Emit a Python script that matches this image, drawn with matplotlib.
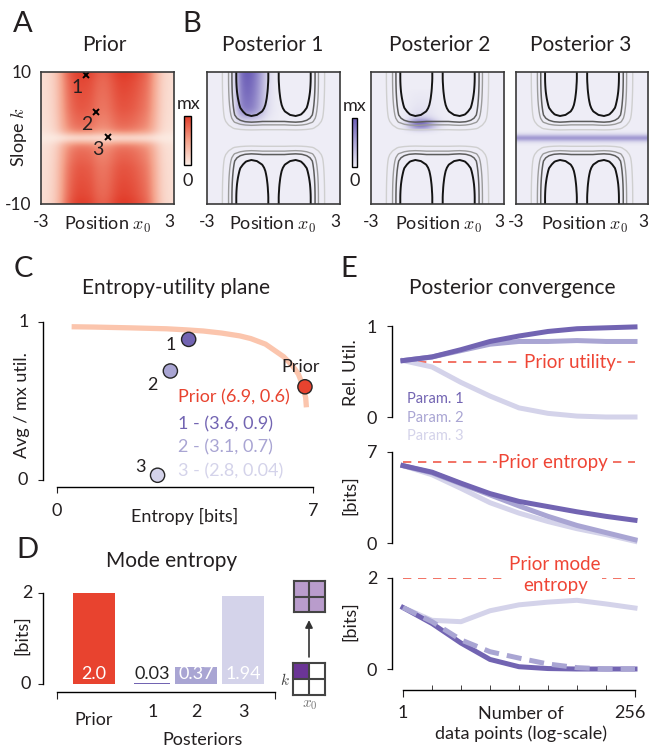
import numpy as np
import matplotlib
matplotlib.use("Agg")
import matplotlib.pyplot as plt
from matplotlib.colors import LinearSegmentedColormap, ListedColormap
from matplotlib.ticker import NullFormatter
from matplotlib.transforms import ScaledTranslation

plt.rcParams['font.family'] = ['Lato', 'DejaVu Sans']
plt.rcParams['mathtext.fontset'] = 'cm'
plt.rcParams['axes.linewidth'] = 1.0
plt.rcParams['text.color'] = '#231f20'
plt.rcParams['xtick.color'] = '#231f20'
plt.rcParams['ytick.color'] = '#231f20'

W, H = 649, 751

# ---------------- data ----------------
# image grids: x0 from -3 to 3 (step 0.25), k from 10 down to -10 (step 0.5)
pos_x0 = np.linspace(-3, 3, 25)
slope_k = np.linspace(10, -10, 41)

# prior density (separable estimate, panel A)
prior_x = [0.10, 0.12, 0.18, 0.32, 0.58, 0.80, 0.92, 0.97, 0.96, 0.93, 0.84, 0.80, 0.82,
           0.90, 0.97, 0.99, 0.97, 0.93, 0.86, 0.78, 0.60, 0.36, 0.18, 0.12, 0.10]
prior_k_half = [0.12, 0.32, 0.60, 0.72, 0.77, 0.80, 0.82, 0.84, 0.86, 0.88, 0.89,
                0.90, 0.91, 0.92, 0.93, 0.94, 0.95, 0.96, 0.98, 1.00, 1.00]   # k = 0..10
prior_k = prior_k_half[::-1] + prior_k_half[1:]

# utility landscape drawn as contours in panel B
util_x_half = [0.975, 0.975, 0.975, 0.99, 1.0, 0.985, 0.95, 0.88, 0.72, 0.54, 0.36, 0.20, 0.10]  # x0 = 0..3
util_k_half = [0.0, 0.17, 0.42, 0.60, 0.72, 0.82, 0.88, 0.91, 0.93, 0.945, 0.958, 0.968,
               0.977, 0.984, 0.99, 0.994, 0.997, 0.999, 1.0, 1.0, 1.0]                    # k = 0..10
dip_x_half = [1.0, 0.6, 0.15, 0.02, 0, 0, 0, 0, 0, 0, 0, 0, 0]
dip_k_half = [0, 0, 0, 0, 0, 0, 0.02, 0.04, 0.06, 0.075, 0.088, 0.098, 0.106, 0.112, 0.116,
              0.118, 0.12, 0.12, 0.12, 0.12, 0.12]
util_x = util_x_half[::-1] + util_x_half[1:]
util_k = util_k_half[::-1] + util_k_half[1:]
dip_x = dip_x_half[::-1] + dip_x_half[1:]
dip_k = dip_k_half[::-1] + dip_k_half[1:]
util_levels = [0.5, 0.7, 0.8, 0.9]

# posteriors (x0 profile, k profile from k=10 down to k=-10)
post1_x = [0] * 5 + [0.1, 0.8, 1.0, 0.95, 0.75, 0.45, 0.15, 0.05] + [0] * 12
post1_k = [1.0, 1.0, 0.98, 0.96, 0.95, 0.93, 0.92, 0.9, 0.88, 0.86, 0.84, 0.8, 0.7,
           0.55, 0.35, 0.18, 0.08, 0.02] + [0] * 23
post2_x = [0] * 6 + [0.08, 0.45, 0.9, 1.0, 0.85, 0.5, 0.2, 0.05] + [0] * 11
post2_k = [0] * 6 + [0.02, 0.03, 0.04, 0.05, 0.06, 0.08, 0.1, 0.14, 0.3, 0.8, 1.0, 0.55,
                     0.08] + [0] * 22
post3_x = [0.8] * 25
post3_k = [0] * 19 + [0.2, 1.0, 0.2] + [0] * 19
posteriors = [(post1_x, post1_k), (post2_x, post2_k), (post3_x, post3_k)]

cross_x = [-0.95, -0.5, 0.0]
cross_k = [9.5, 4.0, 0.1]
cross_lab = ['1', '2', '3']

# panel C
c_names = ['Prior', '1', '2', '3']
c_entropy = [6.78, 3.6, 3.1, 2.75]
c_util = [0.59, 0.89, 0.69, 0.03]
c_legend = ['Prior (6.9, 0.6)', '1 - (3.6, 0.9)', '2 - (3.1, 0.7)', '3 - (2.8, 0.04)']
frontier_entropy = [0.4, 1.0, 2.0, 3.0, 3.55, 4.0, 4.5, 5.0, 5.3, 5.7, 6.2, 6.45, 6.6, 6.72, 6.8, 6.82]
frontier_util = [0.97, 0.968, 0.963, 0.957, 0.95, 0.943, 0.93, 0.912, 0.895, 0.86, 0.78, 0.72,
                 0.67, 0.6, 0.52, 0.46]

# panel D
d_labels = ['Prior', '1', '2', '3']
d_values = [2.0, 0.03, 0.37, 1.94]
d_text = ['2.0', '0.03', '0.37', '1.94']
d_pos = [0.88, 2.27, 3.32, 4.43]
d_width = [1.0, 0.85, 1.0, 1.0]
mode_prior_grid = [[1, 1], [1, 1]]
mode_post_grid = [[2, 0], [0, 0]]

# panel E
n_data = [1, 2, 4, 8, 16, 32, 64, 128, 256]
util_p1 = [0.62, 0.66, 0.74, 0.83, 0.89, 0.94, 0.97, 0.98, 0.99]
util_p2 = [0.62, 0.66, 0.73, 0.80, 0.83, 0.83, 0.84, 0.83, 0.83]
util_p3 = [0.62, 0.55, 0.38, 0.23, 0.10, 0.04, 0.01, 0.0, 0.0]
ent_p1 = [5.95, 5.45, 4.6, 3.8, 3.2, 2.8, 2.4, 2.05, 1.75]
ent_p2 = [5.95, 5.4, 4.55, 3.7, 2.85, 2.05, 1.35, 0.8, 0.25]
ent_p3 = [5.95, 5.25, 4.2, 3.1, 2.3, 1.65, 1.1, 0.65, 0.13]
mode_p1 = [1.35, 1.0, 0.57, 0.21, 0.05, 0.01, 0.0, 0.0, 0.0]
mode_p2 = [1.35, 1.04, 0.64, 0.38, 0.24, 0.11, 0.03, 0.0, 0.0]
mode_p3 = [1.35, 1.07, 1.04, 1.28, 1.41, 1.47, 1.51, 1.43, 1.34]
prior_util = 0.6
prior_ent = 6.2
prior_mode_ent = 2.0

col_prior = '#e8432f'
col_p = ['#7264b2', '#a9a5d3', '#d4d3ea']
red_txt = '#ef4535'

cmap_prior = LinearSegmentedColormap.from_list('pr', ['#fcede5', '#f4a18a', '#e13a28'])
cmap_post = LinearSegmentedColormap.from_list('po', ['#eeedf6', '#aea8d8', '#6a5cb6'])

fig = plt.figure(figsize=(W / 100, H / 100), dpi=100)


def px_axes(x0, y0, x1, y1):
    return fig.add_axes([x0 / W, 1 - y1 / H, (x1 - x0) / W, (y1 - y0) / H])


def ftext(x, y, s, **kw):
    kw.setdefault('ha', 'center')
    kw.setdefault('va', 'center')
    return fig.text(x / W, 1 - y / H, s, **kw)


ext = [-3.125, 3.125, -10.25, 10.25]


def image_axes(ax):
    ax.set_xlim(-3, 3)
    ax.set_ylim(-10, 10)
    ax.set_xticks([-3, 3], ['-3', '3'])
    ax.tick_params(length=0, labelsize=12.5, pad=7)
    ax.get_xticklabels()[1].set_ha('right')
    for s in ax.spines.values():
        s.set_color('#3a3a3a')
        s.set_linewidth(1.2)


# ---------------- A ----------------
ax = px_axes(41, 72, 174, 204)
im_prior = ax.imshow(np.outer(prior_k, prior_x), extent=ext, aspect='auto', cmap=cmap_prior,
                     vmin=0, vmax=1, interpolation='bicubic')
image_axes(ax)
ax.set_yticks([-10, 10], ['-10', '10'])
ax.plot(cross_x, cross_k, 'x', color='k', ms=5, mew=1.4)
for cx, ck, lab in zip(cross_x, cross_k, cross_lab):
    ax.annotate(lab, (cx, ck), xytext=(-7, -9), textcoords='offset points', ha='center',
                va='center', fontsize=14)
cax = px_axes(184, 116, 191, 165)
cb = fig.colorbar(im_prior, cax=cax)
cb.set_ticks([])
cb.outline.set_linewidth(1.0)
ftext(189, 104, 'mx', fontsize=13)
ftext(188, 181, '0', fontsize=13)

ftext(104, 45, 'Prior', fontsize=15)
ftext(107, 225, 'Position $x_0$', fontsize=13)
ftext(19, 137, 'Slope $k$', fontsize=13, rotation=90)

# ---------------- B ----------------
boxes = [(207, 72, 340, 204), (371, 72, 504, 204), (516, 72, 648, 204)]
titles_x = [273, 440, 581]
xlab_x = [272, 438, 584]
field = np.outer(util_k, util_x) - np.outer(dip_k, dip_x)
for i, ((pxp, pkp), box) in enumerate(zip(posteriors, boxes)):
    ax = px_axes(*box)
    im_post = ax.imshow(np.outer(pkp, pxp), extent=ext, aspect='auto', cmap=cmap_post,
                        vmin=0, vmax=1, interpolation='bicubic')
    ax.contour(pos_x0, slope_k, field, levels=util_levels,
               colors=['#cfcfcf', '#9b9b9b', '#5c5c5c', '#141414'],
               linewidths=[1.0, 1.0, 1.1, 1.4])
    image_axes(ax)
    ax.set_yticks([])
    ftext(titles_x[i], 45, 'Posterior %d' % (i + 1), fontsize=15)
    ftext(xlab_x[i], 225, 'Position $x_0$', fontsize=13)

cax = px_axes(352, 118, 357, 167)
cb = fig.colorbar(im_post, cax=cax)
cb.set_ticks([])
cb.outline.set_linewidth(1.0)
ftext(355, 106, 'mx', fontsize=13)
ftext(355, 181, '0', fontsize=13)

# ---------------- C ----------------
ax = px_axes(57, 322, 313, 480)
ax.plot(frontier_entropy, frontier_util, color='#fbc5ad', lw=3.8, solid_capstyle='butt', zorder=1)
ax.scatter(c_entropy, c_util, s=105, c=[col_prior] + col_p, edgecolors='#262626',
           linewidths=1.0, zorder=3, clip_on=False)
offsets = [(-3, 14), (-13, -4), (-13, -10), (-12, 6)]
for x, y, lab, off in zip(c_entropy, c_util, c_names, offsets):
    ax.annotate(lab, (x, y), xytext=off, textcoords='offset points', ha='center', va='center',
                fontsize=13)
for j, (txt, col) in enumerate(zip(c_legend, [col_prior] + col_p)):
    ax.text(0.473, [0.52, 0.354, 0.209, 0.057][j], txt, color=col, transform=ax.transAxes,
            ha='left', va='center', fontsize=13)
ax.set_xlim(0, 7)
ax.set_ylim(0, 1)
for s in ['top', 'right']:
    ax.spines[s].set_visible(False)
ax.spines['left'].set_position(('outward', 10))
ax.spines['bottom'].set_position(('outward', 5))
ax.spines['left'].set_bounds(0, 1)
ax.spines['bottom'].set_bounds(0, 7)
ax.set_xticks([0, 7], ['0', '7'])
ax.set_yticks([0, 1], ['', ''])
ax.tick_params(axis='y', length=3.5)
ax.tick_params(axis='x', length=4.5, labelsize=13, pad=7)
ftext(24, 322, '1', fontsize=13)
ftext(23, 480, '0', fontsize=13)
ftext(176, 288, 'Entropy-utility plane', fontsize=15)
ftext(185, 516, 'Entropy [bits]', fontsize=13)
ftext(22, 405, 'Avg / mx util.', fontsize=13, rotation=90)

# ---------------- D ----------------
ax = px_axes(57, 593, 275, 684)
ax.bar(d_pos, d_values, width=d_width, color=[col_prior] + col_p)
for x, txt, col in zip(d_pos, d_text, ['white', '#222222', 'white', 'white']):
    ax.text(x, 0.04, txt, ha='center', va='bottom', color=col, fontsize=13)
ax.set_xlim(0, 5.19)
ax.set_ylim(0, 2)
for s in ['top', 'right']:
    ax.spines[s].set_visible(False)
ax.spines['left'].set_position(('outward', 10))
ax.spines['bottom'].set_position(('outward', 6))
ax.spines['left'].set_bounds(0, 2)
ax.set_yticks([0, 2], ['', ''])
ax.set_xticks([0, 5.19], ['', ''])
ax.tick_params(axis='y', length=3.5)
ax.tick_params(axis='x', length=5)
ftext(27, 593, '2', fontsize=13)
ftext(26, 684, '0', fontsize=13)
for x, lab in zip(d_pos, d_labels):
    ax.annotate(lab, (x, 0), xycoords=('data', 'axes fraction'),
                xytext=(0, -26 if lab == 'Prior' else -20), textcoords='offset points',
                ha='center', va='center', fontsize=13)
ftext(172, 561, 'Mode entropy', fontsize=15)
ftext(203, 740, 'Posteriors', fontsize=13)
ftext(22, 635, '[bits]', fontsize=13, rotation=90)

grid_cmap = ListedColormap(['white', '#b99ccc', '#6b3596'])
g_top = px_axes(293, 581, 325, 612)
g_bot = px_axes(293, 663, 325, 695)
for g, grid in [(g_top, mode_prior_grid), (g_bot, mode_post_grid)]:
    g.imshow(grid, cmap=grid_cmap, vmin=0, vmax=2, extent=(0, 2, 0, 2))
    g.axhline(1, color='#444444', lw=1.5)
    g.axvline(1, color='#444444', lw=1.5)
    g.set_xticks([])
    g.set_yticks([])
    for s in g.spines.values():
        s.set_color('#444444')
        s.set_linewidth(1.5)
g_top.annotate('', xy=(0.5, -0.26), xytext=(0.5, -1.45), xycoords='axes fraction',
               textcoords='axes fraction', annotation_clip=False,
               arrowprops=dict(arrowstyle='-|>', color='#333333', lw=1.2, mutation_scale=11,
                               shrinkA=0, shrinkB=0))
ftext(285, 680, '$k$', fontsize=11, color='#444444')
ftext(310, 705, '$x_0$', fontsize=11, color='#777777')

# ---------------- E ----------------
e1 = px_axes(403, 326, 635, 417)
e2 = px_axes(403, 452, 635, 543)
e3 = px_axes(403, 578, 635, 669)
lw = 3.6
for ax in (e1, e2, e3):
    ax.set_xscale('log')
    ax.set_xlim(1, 256)
    for s in ['top', 'right']:
        ax.spines[s].set_visible(False)
    ax.spines['left'].set_position(('outward', 8))
    ax.tick_params(axis='y', length=3.5, labelsize=13, pad=7)

e1.axhline(prior_util, color='#f05a4a', lw=1.2, ls=(0, (5, 4)), zorder=1)
e1.plot(n_data, util_p3, color=col_p[2], lw=lw, clip_on=False)
e1.plot(n_data, util_p2, color=col_p[1], lw=lw, clip_on=False)
e1.plot(n_data, util_p1, color=col_p[0], lw=lw, clip_on=False)
e1.text(54, prior_util, 'Prior utility', color=red_txt, fontsize=13.5, ha='center', va='center',
        bbox=dict(facecolor='white', edgecolor='none', pad=1))
e1.set_ylim(0, 1)
e1.spines['left'].set_bounds(0, 1)
e1.set_yticks([0, 1], ['0', '1'])

e2.axhline(prior_ent, color='#f05a4a', lw=1.2, ls=(0, (5, 4)), zorder=1)
e2.plot(n_data, ent_p3, color=col_p[2], lw=lw, clip_on=False)
e2.plot(n_data, ent_p2, color=col_p[1], lw=lw, clip_on=False)
e2.plot(n_data, ent_p1, color=col_p[0], lw=lw, clip_on=False)
e2.text(36, prior_ent, 'Prior entropy', color=red_txt, fontsize=13.5, ha='center', va='center',
        bbox=dict(facecolor='white', edgecolor='none', pad=1))
e2.set_ylim(0, 7)
e2.spines['left'].set_bounds(0, 7)
e2.set_yticks([0, 7], ['0', '7'])

e3.axhline(prior_mode_ent, color='#f05a4a', lw=1.2, ls=(0, (5, 4)), zorder=1)
e3.plot(n_data, mode_p3, color=col_p[2], lw=lw, clip_on=False)
e3.plot(n_data, mode_p1, color=col_p[0], lw=lw, clip_on=False)
e3.plot(n_data, mode_p2, color=col_p[1], lw=lw, ls=(0, (3, 1.6)), clip_on=False)
e3.text(38, prior_mode_ent + 0.07, 'Prior mode\nentropy', color=red_txt, fontsize=13.5,
        ha='center', va='center', linespacing=1.25,
        bbox=dict(facecolor='white', edgecolor='none', pad=1))
e3.set_ylim(0, 2)
e3.spines['left'].set_bounds(0, 2)
e3.set_yticks([0, 2], ['0', '2'])

for ax in (e1, e2):
    ax.spines['bottom'].set_visible(False)
    ax.set_xticks([])
    ax.set_xticks([], minor=True)
e3.spines['bottom'].set_position(('outward', 15))
e3.spines['bottom'].set_bounds(1, 256)
e3.set_xticks([1, 256], ['1', '256'])
e3.set_xticks(n_data[1:-1], minor=True)
e3.xaxis.set_minor_formatter(NullFormatter())
e3.tick_params(axis='x', which='major', length=5, direction='out', labelsize=13, pad=6)
e3.tick_params(axis='x', which='minor', length=3.5, direction='in')
lab256 = e3.get_xticklabels()[1]
lab256.set_transform(lab256.get_transform() + ScaledTranslation(-4 / 72, 0, fig.dpi_scale_trans))

for j, lab in enumerate(['Param. 1', 'Param. 2', 'Param. 3']):
    ftext(407, [399, 417.5, 436][j], lab, color=col_p[j], fontsize=10.5, ha='left')

ftext(512, 288, 'Posterior convergence', fontsize=15)
ftext(521, 724, 'Number of\ndata points (log-scale)', fontsize=13, linespacing=1.3)
ftext(351, 373, 'Rel. Util.', fontsize=13, rotation=90)
ftext(350, 495, '[bits]', fontsize=13, rotation=90)
ftext(350, 621, '[bits]', fontsize=13, rotation=90)

# panel letters
for lab, (x, y) in zip('ABCDE', [(23, 24), (192, 24), (23, 269), (27, 550), (349, 269)]):
    ftext(x, y, lab, fontsize=21)

fig.savefig('out.png', dpi=100)
